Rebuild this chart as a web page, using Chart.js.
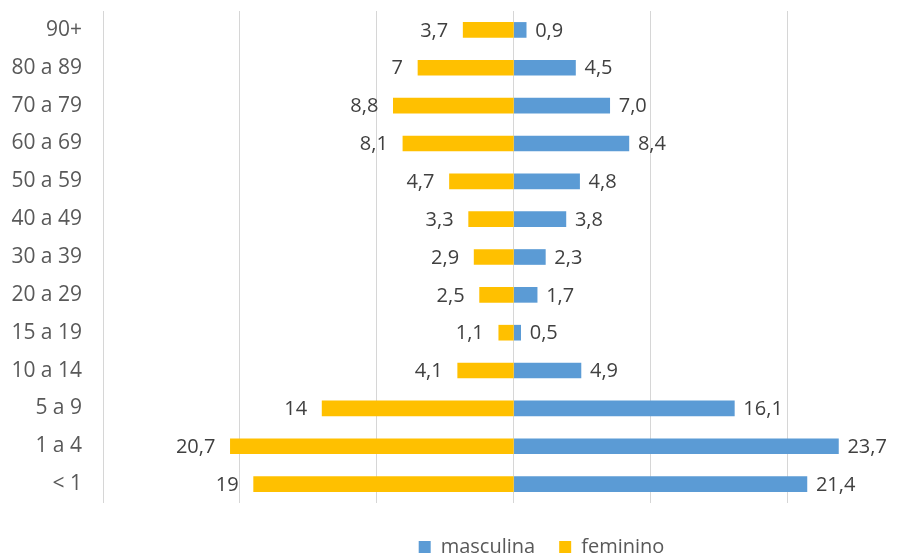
<!DOCTYPE html>
<html>
<head>
<meta charset="utf-8">
<script src="https://cdn.jsdelivr.net/npm/chart.js@4"></script>
<style>
  html, body { margin: 0; padding: 0; background: #fff; overflow: hidden; }
  #wrap { width: 918px; height: 558px; }
</style>
</head>
<body>
<div id="wrap"><canvas id="pyramid" width="918" height="558"></canvas></div>
<script>
const ageGroups = ['90+', '80 a 89', '70 a 79', '60 a 69', '50 a 59', '40 a 49', '30 a 39',
                   '20 a 29', '15 a 19', '10 a 14', '5 a 9', '1 a 4', '< 1'];
const masculina = [0.9, 4.5, 7.0, 8.4, 4.8, 3.8, 2.3, 1.7, 0.5, 4.9, 16.1, 23.7, 21.4];
const feminino = [3.7, 7, 8.8, 8.1, 4.7, 3.3, 2.9, 2.5, 1.1, 4.1, 14, 20.7, 19];

const fontFamily = "'Open Sans', sans-serif";

// draws the value next to the end of each bar
const barLabels = {
    id: 'barLabels',
    afterDatasetsDraw(chart) {
        const ctx = chart.ctx;
        ctx.save();
        ctx.font = '20px ' + fontFamily;
        ctx.fillStyle = '#404040';
        ctx.textBaseline = 'middle';
        chart.data.datasets.forEach((ds, i) => {
            chart.getDatasetMeta(i).data.forEach((bar, j) => {
                let text;
                if (i == 0) {
                    text = masculina[j].toFixed(1).replace('.', ',');
                    ctx.textAlign = 'left';
                    ctx.fillText(text, bar.x + 9, bar.y + 1);
                } else {
                    text = String(feminino[j]).replace('.', ',');
                    ctx.textAlign = 'right';
                    ctx.fillText(text, bar.x - 15, bar.y + 1);
                }
            });
        });
        ctx.restore();
    }
};

// moves the legend to the right and down, like in the original
const legendShift = {
    id: 'legendShift',
    afterLayout(chart) {
        chart.legend.left += 86;
        chart.legend.right += 86;
        chart.legend.top += 24;
        chart.legend.bottom += 24;
    }
};

new Chart(document.getElementById('pyramid').getContext('2d'), {
    type: 'bar',
    data: {
        labels: ageGroups,
        datasets: [{
            label: 'masculina',
            data: masculina,
            backgroundColor: '#5B9BD5',
            barThickness: 15
        }, {
            label: 'feminino',
            data: feminino.map(v => -v),
            backgroundColor: '#FFC000',
            barThickness: 15
        }]
    },
    options: {
        indexAxis: 'y',
        responsive: false,
        animation: false,
        layout: { padding: { top: 11, right: 7, bottom: 1, left: 0 } },
        scales: {
            x: {
                stacked: true,
                min: -30,
                max: 29,
                ticks: { display: false, stepSize: 10 },
                afterBuildTicks: s => { s.ticks = s.ticks.filter(t => t.value % 10 === 0); },
                afterFit: s => { s.height = -14; },
                grid: { color: '#D6D6D6', lineWidth: 1, drawTicks: false },
                border: { display: false }
            },
            y: {
                stacked: true,
                grid: { display: false },
                border: { display: false },
                ticks: { color: '#595959', font: { size: 21, family: fontFamily }, padding: 13 },
                afterFit: s => {
                    s.width = 103;
                    s.paddingTop = 0;
                    s.paddingBottom = 0;
                }
            }
        },
        plugins: {
            legend: {
                position: 'bottom',
                labels: {
                    boxWidth: 12,
                    boxHeight: 12,
                    color: '#595959',
                    font: { size: 20, family: fontFamily },
                    padding: 24
                }
            },
            tooltip: { enabled: false }
        }
    },
    plugins: [barLabels, legendShift]
});
</script>
</body>
</html>
